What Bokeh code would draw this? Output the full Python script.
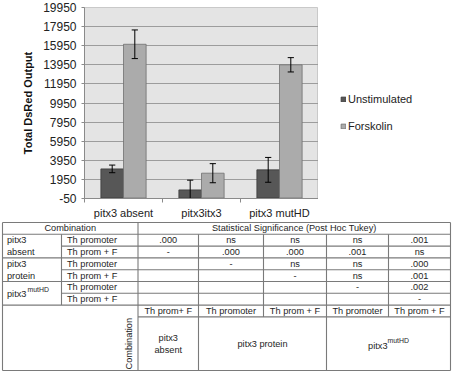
import numpy as np
from bokeh.plotting import figure
from bokeh.models import Range1d, FixedTicker, Legend, LegendItem
from bokeh.layouts import row
from bokeh.core.properties import value
from bokeh.embed import file_html
from bokeh.resources import INLINE

# ---------------- data ----------------
categories = ["pitx3 absent", "pitx3itx3", "pitx3 mutHD"]
series_names = ["Unstimulated", "Forskolin"]
unstimulated = [3050, 850, 2950]
unstimulated_err = [400, 1020, 1300]
forskolin = [16100, 2600, 13950]
forskolin_err = [1500, 1000, 750]
y_ticks = [-50, 1950, 3950, 5950, 7950, 9950, 11950, 13950, 15950, 17950, 19950]

table_header = ["Combination", "Statistical Significance (Post Hoc Tukey)"]
row_groups = [["pitx3", "absent"], ["pitx3", "protein"]]
row_group_sup = ["pitx3", "mutHD"]
row_conditions = ["Th promoter", "Th prom + F"] * 3
significance = [
    [".000", "ns", "ns", "ns", ".001"],
    ["-", ".000", ".000", ".001", "ns"],
    ["", "-", "ns", "ns", ".000"],
    ["", "", "-", "ns", ".001"],
    ["", "", "", "-", ".002"],
    ["", "", "", "", "-"],
]
col_conditions = ["Th prom+ F", "Th promoter", "Th prom + F", "Th promoter", "Th prom + F"]
col_groups = [["pitx3", "absent"], ["pitx3 protein"], ["pitx3", "mutHD"]]
col_axis_title = "Combination"

FONT = "Liberation Sans"
C_UN, L_UN = "#575757", "#3a3a3a"
C_FO, L_FO = "#ababab", "#707070"

# ---------------- bar chart ----------------
p = figure(width=318, height=221, x_range=Range1d(0, 3), y_range=Range1d(-50, 19950),
           output_backend="svg", toolbar_location=None,
           min_border_left=84, min_border_right=0, min_border_top=7, min_border_bottom=23,
           background_fill_color="#e4e4e4", border_fill_color="white",
           outline_line_color="#c9c9c9")

xc = np.arange(len(categories)) + 0.5
w = 0.29
r1 = p.vbar(x=xc - w / 2, top=unstimulated, bottom=0, width=w,
            fill_color=C_UN, line_color=L_UN, line_width=0.8)
r2 = p.vbar(x=xc + w / 2, top=forskolin, bottom=0, width=w,
            fill_color=C_FO, line_color=L_FO, line_width=0.8)

cap = 0.04
for xs, vals, errs in [(xc - w / 2, unstimulated, unstimulated_err),
                       (xc + w / 2, forskolin, forskolin_err)]:
    v = np.array(vals, dtype=float)
    e = np.array(errs, dtype=float)
    p.segment(x0=xs, y0=v - e, x1=xs, y1=v + e, line_color="black", line_width=1)
    p.segment(x0=xs - cap, y0=v + e, x1=xs + cap, y1=v + e, line_color="black", line_width=1)
    p.segment(x0=xs - cap, y0=v - e, x1=xs + cap, y1=v - e, line_color="black", line_width=1)

p.yaxis.ticker = FixedTicker(ticks=y_ticks)
p.yaxis.major_label_overrides = {t: str(t) for t in y_ticks}
p.ygrid.ticker = FixedTicker(ticks=y_ticks)
p.ygrid.grid_line_color = "#9c9c9c"
p.xgrid.visible = False
p.yaxis.axis_label = "Total DsRed Output"
p.yaxis.axis_label_text_font = FONT
p.yaxis.axis_label_text_font_style = "bold"
p.yaxis.axis_label_text_font_size = "11px"
p.yaxis.axis_label_text_color = "#111111"
p.yaxis.axis_label_standoff = 6
p.yaxis.major_label_text_font = FONT
p.yaxis.major_label_text_font_size = "12px"
p.yaxis.major_label_text_color = "#222222"
p.yaxis.major_label_standoff = 5
p.yaxis.major_tick_out = 3
p.yaxis.major_tick_in = 0
p.yaxis.minor_tick_line_color = None
p.yaxis.axis_line_color = "#8a8a8a"
p.yaxis.major_tick_line_color = "#8a8a8a"

p.xaxis.ticker = FixedTicker(ticks=list(xc), minor_ticks=list(range(len(categories) + 1)))
p.xaxis.major_label_overrides = {float(x): c for x, c in zip(xc, categories)}
p.xaxis.major_label_text_font = FONT
p.xaxis.major_label_text_font_size = "11px"
p.xaxis.major_label_text_color = "#222222"
p.xaxis.major_tick_line_color = None
p.xaxis.major_tick_out = 0
p.xaxis.minor_tick_out = 4
p.xaxis.minor_tick_in = 0
p.xaxis.minor_tick_line_color = "#8a8a8a"
p.xaxis.axis_line_color = "#8a8a8a"
p.xaxis.major_label_standoff = 4

# ---------------- legend panel ----------------
lg = figure(width=134, height=221, x_range=Range1d(0, 1), y_range=Range1d(0, 1),
            output_backend="svg", toolbar_location=None,
            x_axis_location=None, y_axis_location=None,
            min_border=0, min_border_top=7, min_border_bottom=23,
            outline_line_color=None, background_fill_color="white")
lg.grid.visible = False
k1 = lg.vbar(x=xc - w / 2, top=unstimulated, width=w, fill_color=C_UN, line_color=L_UN,
             line_width=0.8, visible=False)
k2 = lg.vbar(x=xc + w / 2, top=forskolin, width=w, fill_color=C_FO, line_color=L_FO,
             line_width=0.8, visible=False)
legend = Legend(items=[LegendItem(label=series_names[0], renderers=[k1]),
                       LegendItem(label=series_names[1], renderers=[k2])],
                location=(22, 62), margin=0, padding=0, spacing=7,
                glyph_width=6, glyph_height=6, label_height=20, label_standoff=2,
                label_text_font=FONT, label_text_font_size="11px",
                label_text_color="#222222", inactive_fill_alpha=0,
                border_line_color=None, background_fill_alpha=0)
lg.add_layout(legend)

# ---------------- table ----------------
t = figure(width=452, height=151, x_range=Range1d(0, 452), y_range=Range1d(372, 221),
           output_backend="svg", toolbar_location=None,
           x_axis_location=None, y_axis_location=None,
           min_border=0, outline_line_color=None)
t.grid.visible = False

xe = [2, 61, 137.5, 198, 263, 326, 388, 450]   # column edges
top = 222.0
rh = 11.8
bottom = 370.0
y_body = top + rh
n_rows = len(significance)
y_bh = y_body + n_rows * rh          # bottom header row top
y_bb = y_bh + rh                     # bottom block top

hx0, hx1, hy = [], [], []
hx0 += [xe[0]]; hx1 += [xe[-1]]; hy += [top]
for k in range(n_rows + 1):
    hx0.append(xe[0] if k % 2 == 0 else xe[1]); hx1.append(xe[-1]); hy.append(y_body + k * rh)
hx0.append(xe[2]); hx1.append(xe[-1]); hy.append(y_bb)
hx0.append(xe[0]); hx1.append(xe[-1]); hy.append(bottom)
t.segment(x0=hx0, y0=hy, x1=hx1, y1=hy, line_color="#7a7a7a", line_width=1.1)

vx = [xe[0], xe[1], xe[2], xe[3], xe[4], xe[5], xe[6], xe[7]]
vy0 = [top, y_body, top, y_body, y_body, y_body, y_body, top]
vy1 = [bottom, y_bh, bottom, bottom, y_bb, bottom, y_bb, bottom]
t.segment(x0=vx, y0=vy0, x1=vx, y1=vy1, line_color="#7a7a7a", line_width=1.1)

tx, ty, tt, ta = [], [], [], []
def add(x, y, s, a="center"):
    tx.append(x); ty.append(y); tt.append(s); ta.append(a)

add((xe[0] + xe[2]) / 2, top + rh / 2, table_header[0])
add((xe[2] + xe[-1]) / 2, top + rh / 2, table_header[1])
for g, pair in enumerate(row_groups):
    for j, s in enumerate(pair):
        add(xe[0] + 4.5, y_body + (2 * g + j) * rh + rh / 2, s, "left")
for i, cond in enumerate(row_conditions):
    yc = y_body + i * rh + rh / 2
    add(xe[1] + 5.5, yc, cond, "left")
    for j, s in enumerate(significance[i]):
        if s:
            add((xe[2 + j] + xe[3 + j]) / 2, yc, s)
for j, s in enumerate(col_conditions):
    add((xe[2 + j] + xe[3 + j]) / 2, y_bh + rh / 2, s)
ymid_b = (y_bb + bottom) / 2
add((xe[2] + xe[3]) / 2, ymid_b - 6, col_groups[0][0])
add((xe[2] + xe[3]) / 2, ymid_b + 6, col_groups[0][1])
add((xe[3] + xe[5]) / 2, ymid_b, col_groups[1][0])

t.text(x=tx, y=ty, text=tt, text_align=ta, text_baseline="middle",
       text_font=value(FONT), text_font_size="9.2px", text_color="#1e1e1e")

# superscripted labels
ymut = y_body + 5 * rh
t.text(x=[xe[0] + 4.5], y=[ymut + 1], text=[row_group_sup[0]], text_align="left",
       text_baseline="middle", text_font=value(FONT), text_font_size="9.2px", text_color="#1e1e1e")
t.text(x=[xe[0] + 4.5 + 20.5], y=[ymut - 4], text=[row_group_sup[1]], text_align="left",
       text_baseline="middle", text_font=value(FONT), text_font_size="6.9px", text_color="#1e1e1e")
cx = (xe[5] + xe[7]) / 2
t.text(x=[cx - 1], y=[ymid_b + 2], text=[col_groups[2][0]], text_align="right",
       text_baseline="middle", text_font=value(FONT), text_font_size="9.2px", text_color="#1e1e1e")
t.text(x=[cx - 1], y=[ymid_b - 3.5], text=[col_groups[2][1]], text_align="left",
       text_baseline="middle", text_font=value(FONT), text_font_size="6.9px", text_color="#1e1e1e")

t.text(x=[xe[2] - 9], y=[ymid_b], text=[col_axis_title], angle=np.pi / 2,
       text_align="center", text_baseline="middle", text_font=value(FONT),
       text_font_size="9.2px", text_color="#1e1e1e")

open("out.html", "w").write(file_html([row(p, lg), t], INLINE))
